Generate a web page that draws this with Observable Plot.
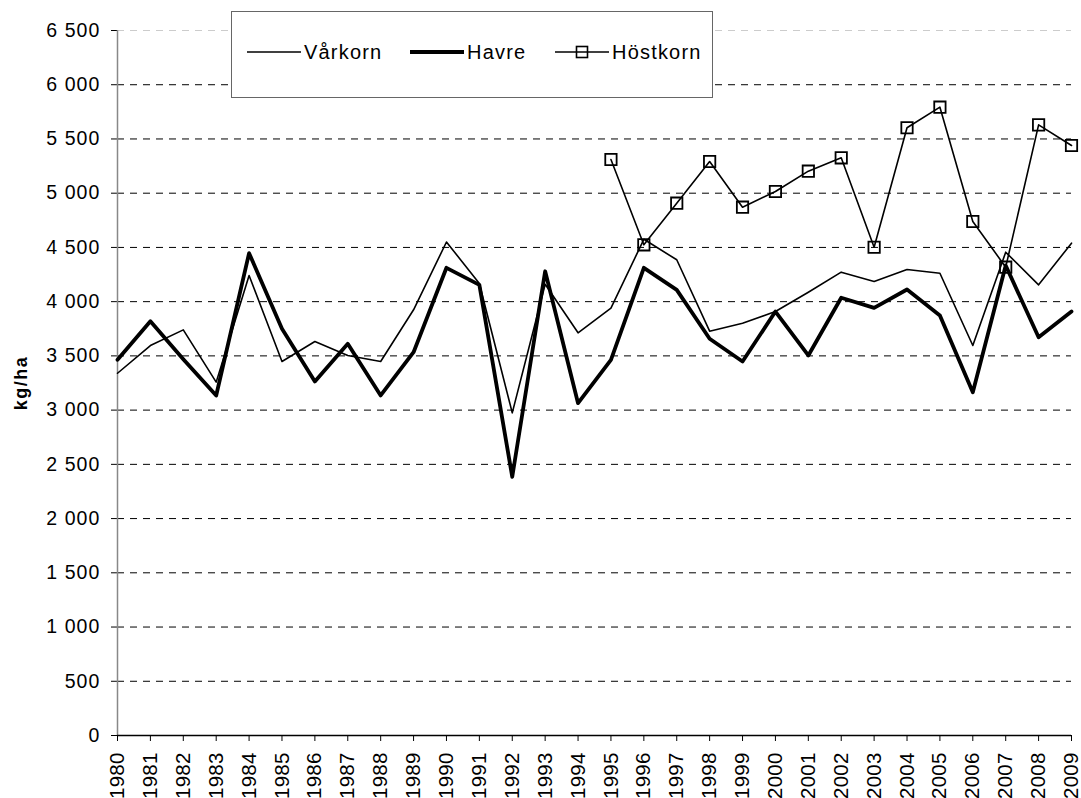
<!DOCTYPE html>
<html>
<head>
<meta charset="utf-8">
<script src="https://cdn.jsdelivr.net/npm/d3@7"></script>
<script src="https://cdn.jsdelivr.net/npm/@observablehq/plot@0.6"></script>
<style>
  body { margin: 0; background: #fff; }
  #wrap { position: relative; width: 1081px; height: 798px; font-family: "Liberation Sans", Arial, sans-serif; }
  #legend { position: absolute; left: 231px; top: 11px; }
  #wrap g[aria-label="y-axis tick label"] { font-size: 19.5px !important; letter-spacing: 1.1px; }
  #wrap g[aria-label="x-axis tick label"] { font-size: 20.5px !important; letter-spacing: 0.2px; }
  #wrap g[aria-label="text"] { font-size: 18px !important; letter-spacing: 1.5px; }
</style>
</head>
<body>
<div id="wrap"></div>
<script>
// ---- data ----
const years = d3.range(1980, 2010);
const varkorn = [3340, 3595, 3740, 3258, 4241, 3448, 3633, 3504, 3448, 3925,
                 4550, 4168, 2975, 4160, 3713, 3940, 4575, 4386, 3728, 3800,
                 3909, 4087, 4272, 4186, 4296, 4262, 3596, 4456, 4155, 4539];
const havre   = [3464, 3820, 3470, 3135, 4447, 3750, 3264, 3611, 3135, 3534,
                 4312, 4155, 2385, 4280, 3064, 3464, 4312, 4109, 3658, 3448,
                 3909, 3504, 4036, 3943, 4112, 3872, 3165, 4333, 3672, 3909];
const hostkornYears = d3.range(1995, 2010);
const hostkorn = [5311, 4524, 4908, 5292, 4871, 5016, 5203, 5326, 4502, 5603,
                  5793, 4739, 4318, 5630, 5440];
const seriesNames = ["Vårkorn", "Havre", "Höstkorn"];
const yTicks = d3.range(0, 6501, 500);
const yLabel = "kg/ha";

const vData = years.map((y, i) => ({year: y, value: varkorn[i]}));
const hData = years.map((y, i) => ({year: y, value: havre[i]}));
const kData = hostkornYears.map((y, i) => ({year: y, value: hostkorn[i]}));

const fmt = d => d3.format(",")(d).replace(/,/g, " ");
const font = "'Liberation Sans', Arial, sans-serif";

const chart = Plot.plot({
  width: 1081,
  height: 798,
  marginLeft: 117,
  marginRight: 10,
  marginTop: 30,
  marginBottom: 63,
  style: {fontFamily: font, fontSize: "19px", color: "#000", background: "#fff", overflow: "visible"},
  x: {type: "linear", domain: [1980, 2009]},
  y: {domain: [0, 6500]},
  marks: [
    Plot.ruleY(yTicks.filter(d => d > 0 && d < 6500), {stroke: "#000", strokeWidth: 1, strokeDasharray: "7,6"}),
    Plot.ruleY([6500], {stroke: "#ccc", strokeWidth: 1, strokeDasharray: "7,6"}),
    Plot.axisY({ticks: yTicks, tickSize: 6, tickPadding: 11, tickFormat: fmt, label: null, stroke: "#000"}),
    Plot.axisX({ticks: years, tickSize: 6, tickPadding: 11, tickRotate: -90, tickFormat: d => String(d), label: null}),
    Plot.ruleX([1980], {stroke: "#888", strokeWidth: 1.5}),
    Plot.ruleY([0], {stroke: "#000", strokeWidth: 1.5}),
    Plot.text([yLabel], {frameAnchor: "left", textAnchor: "middle", rotate: -90, dx: -96, fontWeight: "bold", fill: "#000"}),
    Plot.line(vData, {x: "year", y: "value", stroke: "#000", strokeWidth: 1.6}),
    Plot.line(hData, {x: "year", y: "value", stroke: "#000", strokeWidth: 3.8}),
    Plot.line(kData, {x: "year", y: "value", stroke: "#000", strokeWidth: 1.6}),
    Plot.dot(kData, {x: "year", y: "value", symbol: "square", r: 6.4, fill: "none", stroke: "#000", strokeWidth: 1.8})
  ]
});
document.getElementById("wrap").appendChild(chart);

// ---- legend overlay ----
const lw = 482, lh = 87;
const leg = d3.select("#wrap").append("svg").attr("id", "legend")
  .attr("width", lw).attr("height", lh)
  .style("font-family", font);
leg.append("rect").attr("x", 0.5).attr("y", 0.5).attr("width", lw - 1).attr("height", lh - 1)
  .attr("fill", "#fff").attr("stroke", "#666").attr("stroke-width", 1);
const items = [
  {name: seriesNames[0], x: 16, w: 1.6, marker: false},
  {name: seriesNames[1], x: 179, w: 3.8, marker: false},
  {name: seriesNames[2], x: 324, w: 1.6, marker: true}
];
items.forEach(it => {
  const g = leg.append("g");
  g.append("line").attr("x1", it.x).attr("x2", it.x + 54).attr("y1", 41).attr("y2", 41)
    .attr("stroke", "#000").attr("stroke-width", it.w);
  if (it.marker) {
    g.append("rect").attr("x", it.x + 27 - 5.5).attr("y", 41 - 5.5).attr("width", 11).attr("height", 11)
      .attr("fill", "none").attr("stroke", "#000").attr("stroke-width", 1.6);
  }
  g.append("text").attr("x", it.x + 57).attr("y", 41).attr("dy", "0.35em")
    .attr("font-size", 20).attr("fill", "#000").style("letter-spacing", "1.2px").text(it.name);
});
</script>
</body>
</html>
